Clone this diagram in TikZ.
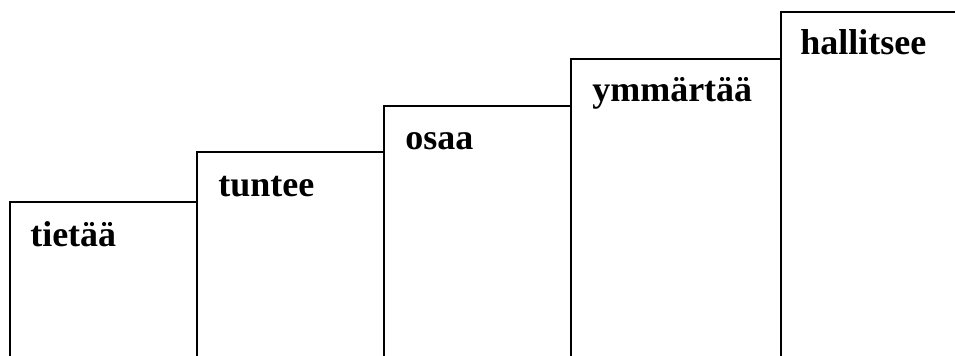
\documentclass[tikz,border=0pt]{standalone}
\usepackage{fontspec}
\setmainfont{Liberation Serif}
\begin{document}
\begin{tikzpicture}[x=0.75pt,y=-0.75pt,
    stair/.style={line width=1.5pt,line join=miter},
    word/.style={anchor=base west,inner sep=0pt,font=\fontsize{27}{32}\selectfont\bfseries}]
  \useasboundingbox (0,0) rectangle (955,356);
  % steps, open at the bottom
  \draw[stair] (10,356) -- (10,202) -- (197,202); % step 1
  \draw[stair] (197,356) -- (197,152) -- (384,152); % step 2
  \draw[stair] (384,356) -- (384,106) -- (571,106); % step 3
  \draw[stair] (571,356) -- (571,59) -- (781,59); % step 4
  \draw[stair] (781,356) -- (781,12) -- (955,12); % step 5
  \node[word] (tietaa) at (30,246) {tietää}; % step 1 label
  \node[word] (tuntee) at (218,196) {tuntee};
  \node[word] (osaa) at (405,150) {osaa};
  \node[word] (ymmartaa) at (592,102) {ymmärtää};
  \node[word] (hallitsee) at (800,55) {hallitsee};
\end{tikzpicture}
\end{document}
